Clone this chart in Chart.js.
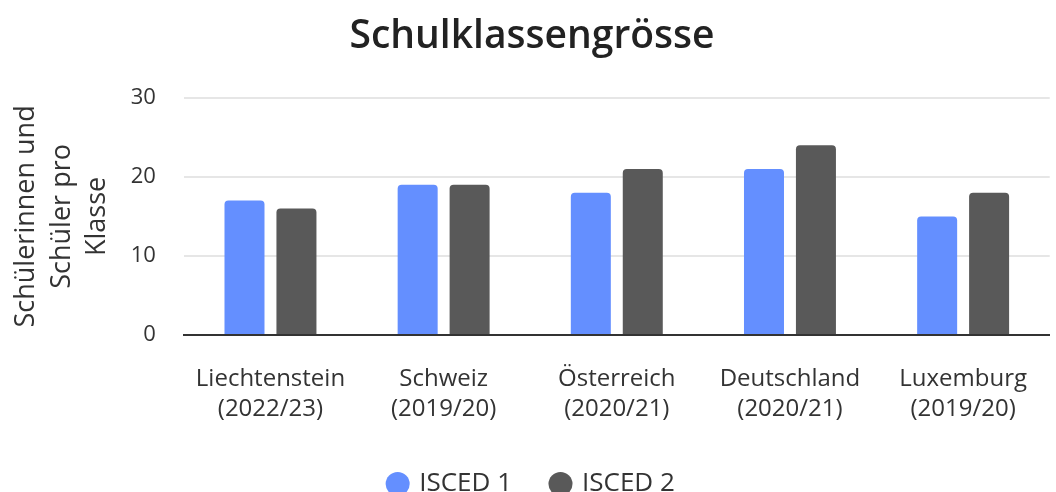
<!DOCTYPE html>
<html><head><meta charset="utf-8">
<script src="https://cdn.jsdelivr.net/npm/chart.js@4/dist/chart.umd.min.js"></script>
<style>html,body{margin:0;padding:0;background:#fff}#wrap{width:1056px;height:492px}</style>
</head><body><div id="wrap"><canvas id="c"></canvas></div>
<script>
const categories = [["Liechtenstein","(2022/23)"],["Schweiz","(2019/20)"],["Österreich","(2020/21)"],["Deutschland","(2020/21)"],["Luxemburg","(2019/20)"]];
const seriesNames = ["ISCED 1","ISCED 2"];
const isced1 = [17, 19, 18, 21, 15];
const isced2 = [16, 19, 21, 24, 18];
const yTicks = [0, 10, 20, 30];
const FONT = "'Open Sans'";
const legendShift = {
  id: 'legendShift',
  afterLayout(chart) {
    const lg = chart.legend;
    if (lg) { lg.top -= 22; lg.bottom -= 22; }
  }
};
new Chart(document.getElementById('c'), {
  type: 'bar',
  data: {
    labels: categories,
    datasets: [
      {label: seriesNames[0], data: isced1, backgroundColor: '#648FFF', borderRadius: {topLeft:4, topRight:4}, borderSkipped: 'bottom'},
      {label: seriesNames[1], data: isced2, backgroundColor: '#595959', borderRadius: {topLeft:4, topRight:4}, borderSkipped: 'bottom'}
    ]
  },
  plugins: [legendShift],
  options: {
    responsive: true, maintainAspectRatio: false, animation: false,
    layout: {padding: {left: 8, right: 0, top: 6, bottom: -37}},
    categoryPercentage: 0.6, barPercentage: 0.77,
    plugins: {
      title: {display: true, text: 'Schulklassengrösse', color: '#222', font: {family: FONT, size: 39, weight: '600'}, padding: {top: 7, bottom: 38}},
      legend: {position: 'bottom', labels: {usePointStyle: true, pointStyle: 'circle', boxWidth: 17, boxHeight: 17, padding: 40, color: '#333', font: {family: FONT, size: 26}}},
      tooltip: {enabled: false}
    },
    scales: {
      x: {
        grid: {display: false, drawTicks: false},
        border: {display: true, color: '#333', width: 2},
        ticks: {color: '#333', font: {family: FONT, size: 24, lineHeight: 1.25}, padding: 29, maxRotation: 0}
      },
      y: {
        min: 0, max: 30,
        afterBuildTicks: (s) => { s.ticks = yTicks.map(v => ({value: v})); },
        grid: {color: '#e6e6e6', lineWidth: 2, drawTicks: false},
        border: {display: false},
        ticks: {color: '#333', font: {family: FONT, size: 22}, padding: 28},
        title: {display: true, text: ['Schülerinnen und','Schüler pro','Klasse'], color: '#333', font: {family: FONT, size: 27, lineHeight: 1.33}, padding: {top: 0, bottom: -13}}
      }
    }
  }
});
</script></body></html>
